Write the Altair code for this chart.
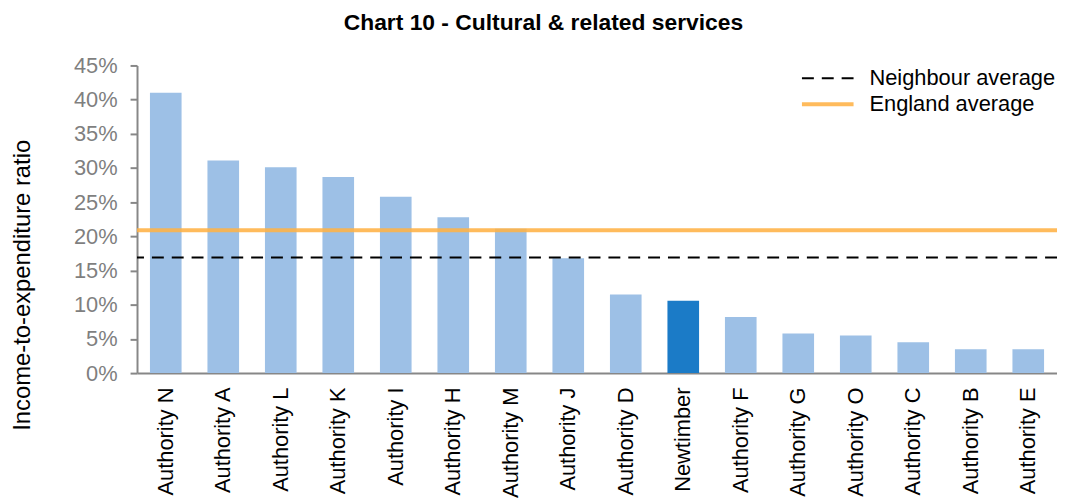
import altair as alt
import pandas as pd

authorities = ["Authority N", "Authority A", "Authority L", "Authority K", "Authority I",
               "Authority H", "Authority M", "Authority J", "Authority D", "Newtimber",
               "Authority F", "Authority G", "Authority O", "Authority C", "Authority B",
               "Authority E"]
ratios = [0.410, 0.311, 0.301, 0.287, 0.258, 0.228, 0.211, 0.168, 0.115, 0.106,
          0.082, 0.058, 0.055, 0.045, 0.035, 0.035]
avg_names = ["Neighbour average", "England average"]
avg_values = [0.169, 0.209]
y_ticks = [0.0, 0.05, 0.10, 0.15, 0.20, 0.25, 0.30, 0.35, 0.40, 0.45]

bars_df = pd.DataFrame({"authority": authorities, "ratio": ratios})
avg_df = pd.DataFrame({"series": avg_names, "value": avg_values})

FONT = "Liberation Sans"
AXIS_GREY = "#878787"

y_scale = alt.Scale(domain=[0, 0.45], nice=False)
y_axis = alt.Axis(values=y_ticks, format=".0%", grid=False, labelOverlap=False,
                  labelFontSize=22, labelColor="#7F7F7F", labelFont=FONT,
                  labelPadding=13, tickSize=7, tickColor=AXIS_GREY, tickWidth=2,
                  domainColor=AXIS_GREY, domainWidth=2,
                  title="Income-to-expenditure ratio", titleFontSize=24,
                  titleFont=FONT, titleFontWeight="normal", titleColor="#000000",
                  titleX=-108, titleY=221, titleAngle=270, titleAlign="center",
                  titleBaseline="alphabetic")

bars = alt.Chart(bars_df).mark_bar().encode(
    x=alt.X(
        "authority:N", sort=authorities,
        scale=alt.Scale(paddingInner=0.45, paddingOuter=0.225),
        axis=alt.Axis(title=None, labelAngle=270, labelAlign="right", labelBaseline="middle",
                      labelPadding=14, ticks=False, labelFontSize=22, labelColor="#000000",
                      labelFont=FONT, domainColor=AXIS_GREY, domainWidth=2, labelLimit=300),
    ),
    y=alt.Y("ratio:Q", scale=y_scale, axis=y_axis),
    color=alt.condition(alt.datum.authority == "Newtimber",
                        alt.value("#1B7BC7"), alt.value("#9DC0E6")),
)

legend = alt.Legend(title=None, orient="none", legendX=681, legendY=-1,
                    symbolType="M-2,0H2", symbolSize=676, labelFontSize=22,
                    labelFont=FONT, labelColor="#000000", rowPadding=0,
                    padding=0, labelOffset=27, labelLimit=400)

rules = alt.Chart(avg_df).mark_rule().encode(
    y=alt.Y("value:Q", scale=y_scale, axis=y_axis),
    color=alt.Color("series:N",
                    scale=alt.Scale(domain=avg_names,
                                    range=["#000000", "rgba(255,178,70,0.88)"]),
                    legend=legend),
    strokeDash=alt.StrokeDash("series:N",
                              scale=alt.Scale(domain=avg_names, range=[[12, 8], [1, 0]]),
                              legend=legend),
    strokeWidth=alt.StrokeWidth("series:N",
                                scale=alt.Scale(domain=avg_names, range=[2, 4]),
                                legend=legend),
)

chart = alt.layer(bars, rules).properties(
    width=927, height=310,
    autosize=alt.AutoSizeParams(type="none"),
    padding={"left": 130, "top": 56, "right": 0, "bottom": 130},
    title=alt.TitleParams("Chart 10 - Cultural & related services", fontSize=23,
                          font=FONT, fontWeight="bold", color="#000000",
                          anchor="middle", dx=-54, offset=20),
).configure_view(stroke=None)

chart.save("out.html", embed_options={"renderer": "svg", "actions": False})
